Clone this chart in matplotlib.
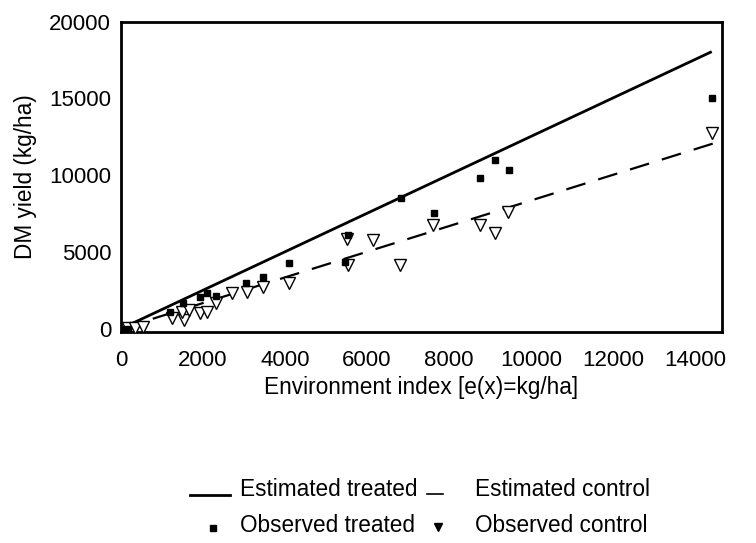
import matplotlib
matplotlib.use('Agg')
import matplotlib.pyplot as plt
from matplotlib.lines import Line2D

plt.rcParams['font.family'] = ['Liberation Sans', 'DejaVu Sans']

# observed treated (environment index, DM yield)
treat_x = [50, 170, 1200, 1510, 1930, 2100, 2320, 3050, 3460, 4100,
           5460, 5540, 6830, 7630, 8760, 9120, 9460, 14410]
treat_y = [-150, 0, 1110, 1690, 2080, 2350, 2150, 3000, 3390, 4300,
           4360, 6120, 8530, 7560, 9840, 11010, 10360, 15050]

# observed control
ctrl_x = [170, 340, 540, 1240, 1540, 1490, 1660, 1930, 2100, 2320, 2710,
          3070, 3460, 4100, 5540, 5510, 6150, 6800, 7610, 8760, 9120,
          9440, 14410]
ctrl_y = [50, 70, 130, 720, 590, 1110, 1240, 1040, 1110, 1690, 2350,
          2410, 2740, 3000, 4170, 5860, 5800, 4170, 6780, 6780, 6250,
          7620, 12770]

# estimated regression lines (end points)
est_treat_x = [0, 14410]
est_treat_y = [0, 18050]
est_ctrl_x = [0, 14510]
est_ctrl_y = [0, 12120]

legend_labels = ['Estimated treated', 'Estimated control',
                 'Observed treated', 'Observed control']

fig = plt.figure(figsize=(7.56, 5.43), dpi=100)
ax = fig.add_axes([0.160, 0.389, 0.795, 0.571])

ax.plot(est_treat_x, est_treat_y, color='black', lw=2.0, solid_capstyle='butt')
ax.plot(est_ctrl_x, est_ctrl_y, color='black', lw=1.6, dashes=(9, 6))
ax.plot(treat_x, treat_y, 's', color='black', ms=5, zorder=4)
ax.plot(ctrl_x, ctrl_y, 'v', mfc='white', mec='black', mew=1.0, ms=8, zorder=3)

ax.set_xlim(0, 14660)
ax.set_ylim(-200, 20000)
ax.set_xticks([0, 2000, 4000, 6000, 8000, 10000, 12000, 14000])
ax.set_yticks([0, 5000, 10000, 15000, 20000])
ax.tick_params(axis='x', length=0, labelsize=16, pad=13)
ax.tick_params(axis='y', length=0, labelsize=16, pad=7)
for s in ax.spines.values():
    s.set_linewidth(2.0)

ax.set_xlabel('Environment index [e(x)=kg/ha]', fontsize=16.3, labelpad=4)
ax.set_ylabel('DM yield (kg/ha)', fontsize=16.3, labelpad=9)

# legend drawn by hand below the plot, two rows
row1, row2 = 0.099, 0.033
col1, col2 = 240 / 756, 475 / 756
fs = 16.3
fig.text(col1, row1, legend_labels[0], fontsize=fs, va='center')
fig.text(col2, row1, legend_labels[1], fontsize=fs, va='center')
fig.text(col1, row2, legend_labels[2], fontsize=fs, va='center')
fig.text(col2, row2, legend_labels[3], fontsize=fs, va='center')
fig.add_artist(Line2D([190 / 756, 230 / 756], [0.088, 0.088], color='black',
                      lw=2.0, transform=fig.transFigure))
fig.add_artist(Line2D([427 / 756, 443 / 756], [0.090, 0.090], color='black',
                      lw=1.2, transform=fig.transFigure))
fig.add_artist(Line2D([213 / 756], [0.027], marker='s', color='black', ms=4,
                      ls='none', transform=fig.transFigure))
fig.add_artist(Line2D([438 / 756], [0.030], marker='v', color='black', ms=6,
                      ls='none', transform=fig.transFigure))

fig.savefig('out.png', dpi=100)
